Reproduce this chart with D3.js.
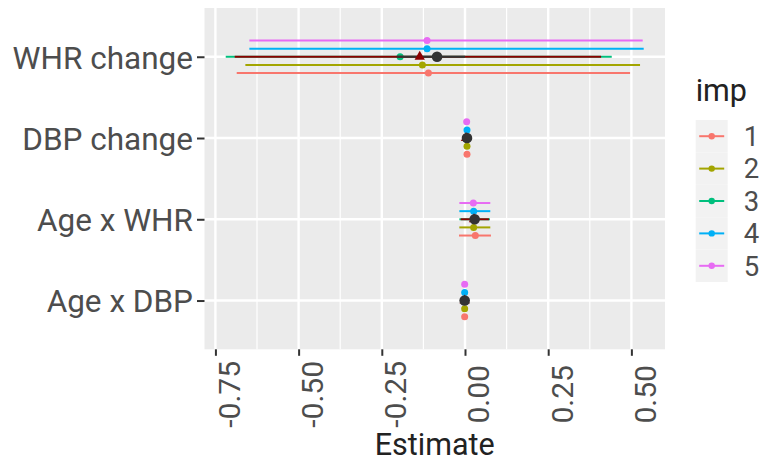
<!DOCTYPE html>
<html>
<head>
	<meta charset="utf-8">
	<title>Estimates by imputation</title>
	<script src="https://d3js.org/d3.v7.min.js"></script>
	<style>
		html, body {
			margin: 0;
			background: white;
		}
		text {
			font-family: Roboto, "Noto Sans", sans-serif;
		}
	</style>
</head>
<body>
	<svg id="svg"></svg>
	<script>
		// terms, top to bottom
		const terms = ["WHR change", "DBP change", "Age x WHR", "Age x DBP"];
		const imps = ["1", "2", "3", "4", "5"];
		const impColors = ["#F8766D", "#A3A500", "#00BF7D", "#00B0F6", "#E76BF3"];
		const xTicks = [-0.75, -0.5, -0.25, 0, 0.25, 0.5];

		// per imputation: [estimate, low, high] for each term
		const imp1 = [[-0.110, -0.686, 0.496], [0.006, 0.002, 0.010], [0.031, -0.018, 0.078], [-0.001, -0.004, 0.002]];
		const imp2 = [[-0.128, -0.660, 0.526], [0.006, 0.002, 0.010], [0.026, -0.017, 0.076], [-0.001, -0.004, 0.002]];
		const imp3 = [[-0.195, -0.719, 0.441], [0.005, 0.001, 0.009], [0.028, -0.017, 0.075], [-0.001, -0.004, 0.002]];
		const imp4 = [[-0.114, -0.648, 0.537], [0.006, 0.002, 0.010], [0.026, -0.017, 0.076], [-0.001, -0.004, 0.002]];
		const imp5 = [[-0.114, -0.648, 0.534], [0.005, 0.001, 0.009], [0.025, -0.017, 0.076], [-0.001, -0.004, 0.002]];

		// pooled (triangle) and reference (big point)
		const pooled = [[-0.136, -0.692, 0.409], [0.003, 0.000, 0.007], [0.027, -0.013, 0.072], [-0.001, -0.004, 0.002]];
		const reference = [[-0.084, -0.205, 0.000], [0.006, 0.003, 0.009], [0.029, 0.018, 0.040], [-0.001, -0.003, 0.001]];

		const impData = [imp1, imp2, imp3, imp4, imp5];

		const width = 765, height = 463;
		const panel = {left: 204.5, right: 665, top: 8, bottom: 349.3};

		const svg = d3.select("#svg")
		.attr("width", width)
		.attr("height", height);

		const scaleX = d3.scaleLinear()
		.domain([-0.7828, 0.601])
		.range([panel.left, panel.right]);

		const scaleY = d3.scalePoint()
		.domain(terms)
		.range([panel.top, panel.bottom])
		.padding(0.6);

		// dodge within a row: imp 1 at bottom, imp 5 at top
		const dodge = d3.scalePoint()
		.domain(imps)
		.range([0.2 * scaleY.step(), -0.2 * scaleY.step()]);

		const color = d3.scaleOrdinal()
		.domain(imps)
		.range(impColors);

		// panel background + grid
		svg.append("rect")
		.attr("x", panel.left)
		.attr("y", panel.top)
		.attr("width", panel.right - panel.left)
		.attr("height", panel.bottom - panel.top)
		.attr("fill", "#EBEBEB");

		const minorTicks = d3.pairs(xTicks).map(([a, b]) => (a + b) / 2);

		svg.append("g")
		.selectAll("line")
		.data(minorTicks)
		.enter()
		.append("line")
		.attr("x1", d => scaleX(d))
		.attr("x2", d => scaleX(d))
		.attr("y1", panel.top)
		.attr("y2", panel.bottom)
		.attr("stroke", "white")
		.attr("stroke-width", 1.2);

		svg.append("g")
		.selectAll("line")
		.data(xTicks)
		.enter()
		.append("line")
		.attr("x1", d => scaleX(d))
		.attr("x2", d => scaleX(d))
		.attr("y1", panel.top)
		.attr("y2", panel.bottom)
		.attr("stroke", "white")
		.attr("stroke-width", 2.4);

		svg.append("g")
		.selectAll("line")
		.data(terms)
		.enter()
		.append("line")
		.attr("x1", panel.left)
		.attr("x2", panel.right)
		.attr("y1", d => scaleY(d))
		.attr("y2", d => scaleY(d))
		.attr("stroke", "white")
		.attr("stroke-width", 2.4);

		// imputation ranges
		const impRows = [];
		impData.forEach((rows, i) => {
			rows.forEach((r, j) => {
				impRows.push({imp: imps[i], term: terms[j], est: r[0], lo: r[1], hi: r[2]});
			});
		});

		const rowY = d => scaleY(d.term) + dodge(d.imp);

		const impG = svg.append("g");
		impG.selectAll("line")
		.data(impRows)
		.enter()
		.append("line")
		.attr("x1", d => scaleX(d.lo))
		.attr("x2", d => scaleX(d.hi))
		.attr("y1", rowY)
		.attr("y2", rowY)
		.attr("stroke", d => color(d.imp))
		.attr("stroke-width", 2);

		impG.selectAll("circle")
		.data(impRows)
		.enter()
		.append("circle")
		.attr("cx", d => scaleX(d.est))
		.attr("cy", rowY)
		.attr("r", 3.5)
		.attr("fill", d => color(d.imp));

		const pooledRows = pooled.map((r, j) => ({term: terms[j], est: r[0], lo: r[1], hi: r[2]}));
		const refRows = reference.map((r, j) => ({term: terms[j], est: r[0], lo: r[1], hi: r[2]}));

		svg.append("g")
		.selectAll("line")
		.data(pooledRows)
		.enter()
		.append("line")
		.attr("x1", d => scaleX(d.lo))
		.attr("x2", d => scaleX(d.hi))
		.attr("y1", d => scaleY(d.term))
		.attr("y2", d => scaleY(d.term))
		.attr("stroke", "#8B0000")
		.attr("stroke-width", 2);

		svg.append("g")
		.selectAll("line")
		.data(refRows)
		.enter()
		.append("line")
		.attr("x1", d => scaleX(d.lo))
		.attr("x2", d => scaleX(d.hi))
		.attr("y1", d => scaleY(d.term))
		.attr("y2", d => scaleY(d.term))
		.attr("stroke", "#333333")
		.attr("stroke-width", 2);

		const tri = d3.symbol().type(d3.symbolTriangle).size(46);
		svg.append("g")
		.selectAll("path")
		.data(pooledRows)
		.enter()
		.append("path")
		.attr("d", tri)
		.attr("transform", d => `translate(${scaleX(d.est)}, ${scaleY(d.term)})`)
		.attr("fill", "#8B0000");

		svg.append("g")
		.selectAll("circle")
		.data(refRows)
		.enter()
		.append("circle")
		.attr("cx", d => scaleX(d.est))
		.attr("cy", d => scaleY(d.term))
		.attr("r", 5.3)
		.attr("fill", "#333333");

		// axes
		const xAxis = svg.append("g")
		.attr("transform", `translate(0, ${panel.bottom})`)
		.call(d3.axisBottom(scaleX).tickValues(xTicks).tickSize(6.5).tickFormat(d3.format(".2f")));
		xAxis.select(".domain").remove();
		xAxis.selectAll(".tick line").attr("stroke", "#333333").attr("stroke-width", 2);
		xAxis.selectAll(".tick text")
		.attr("transform", "translate(24, 45) rotate(-90)")
		.attr("x", 0)
		.attr("y", 0)
		.attr("dy", null)
		.attr("text-anchor", "middle")
		.attr("font-size", 30)
		.attr("fill", "#4D4D4D")
		.text(d => d3.format(".2f")(d).replace("−", "-"));

		const yAxis = svg.append("g")
		.attr("transform", `translate(${panel.left}, 0)`)
		.call(d3.axisLeft(scaleY).tickSize(7.5).tickPadding(4));
		yAxis.select(".domain").remove();
		yAxis.selectAll(".tick line").attr("stroke", "#333333").attr("stroke-width", 2);
		yAxis.selectAll(".tick text")
		.attr("dy", "0.36em")
		.attr("font-size", 31.5)
		.attr("fill", "#4D4D4D");

		svg.append("text")
		.attr("x", (panel.left + panel.right) / 2)
		.attr("y", 455)
		.attr("text-anchor", "middle")
		.attr("font-size", 30.5)
		.attr("fill", "#222")
		.text("Estimate");

		// legend
		const legend = svg.append("g").attr("transform", "translate(695.7, 120)");
		legend.append("text")
		.attr("x", 0)
		.attr("y", -19)
		.attr("font-size", 30.5)
		.attr("fill", "#222")
		.text("imp");

		const keyH = 32.4;
		const keys = legend.selectAll("g.key")
		.data(imps)
		.enter()
		.append("g")
		.attr("class", "key")
		.attr("transform", (d, i) => `translate(0, ${i * keyH})`);

		keys.append("rect")
		.attr("width", 32)
		.attr("height", keyH)
		.attr("fill", "#F2F2F2");

		keys.append("line")
		.attr("x1", 3.5)
		.attr("x2", 28.5)
		.attr("y1", keyH / 2)
		.attr("y2", keyH / 2)
		.attr("stroke", d => color(d))
		.attr("stroke-width", 2);

		keys.append("circle")
		.attr("cx", 16)
		.attr("cy", keyH / 2)
		.attr("r", 3.2)
		.attr("fill", d => color(d));

		keys.append("text")
		.attr("x", 48)
		.attr("y", keyH / 2)
		.attr("dy", "0.36em")
		.attr("font-size", 27.5)
		.attr("fill", "#4D4D4D")
		.text(d => d);
	</script>
</body>
</html>
